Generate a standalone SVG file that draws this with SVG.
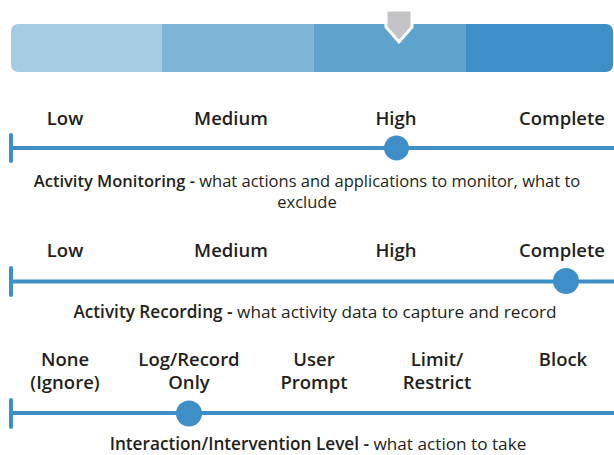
<svg xmlns="http://www.w3.org/2000/svg" width="614" height="455" viewBox="0 0 614 455">
<style>
.lbl{font-family:"Open Sans","Liberation Sans",sans-serif;font-weight:600;font-size:18.5px;fill:#231f20;text-anchor:middle}
.cap{font-family:"Open Sans","Liberation Sans",sans-serif;font-size:16.5px;fill:#231f20;text-anchor:middle}
.cap2{font-size:17.2px}
.cap .b{font-weight:600}
.track{stroke:#3e8fc7;stroke-width:4;fill:none}
.knob{fill:#3e8fc7}
</style>
<defs>
<clipPath id="barclip"><rect x="11" y="24" width="602" height="48" rx="7"/></clipPath>
</defs>
<g id="scale-bar" clip-path="url(#barclip)">
<rect x="11" y="24" width="151" height="48" fill="#a6cce3"/>
<rect x="162" y="24" width="152" height="48" fill="#7fb5d7"/>
<rect x="314" y="24" width="152" height="48" fill="#5fa3cd"/>
<rect x="466" y="24" width="148" height="48" fill="#3e8fc7"/>
</g>
<g id="marker">
<polygon points="386,10 412,10 412,27 399,42 386,27" fill="#c4c4c6" stroke="#ffffff" stroke-width="3" stroke-linejoin="miter"/>
</g>
<g id="connectors">
<line class="track" x1="11" y1="148" x2="614" y2="148"/>
<line class="track" x1="11" y1="135" x2="11" y2="161" stroke-linecap="round"/>
<line class="track" x1="11" y1="281.5" x2="614" y2="281.5"/>
<line class="track" x1="11" y1="268" x2="11" y2="295" stroke-linecap="round"/>
<line class="track" x1="11" y1="413" x2="614" y2="413"/>
<line class="track" x1="11" y1="400" x2="11" y2="427" stroke-linecap="round"/>
</g>
<g id="monitoring">
<text class="lbl" x="65" y="125">Low</text>
<text class="lbl" x="231" y="125">Medium</text>
<text class="lbl" x="396" y="125">High</text>
<text class="lbl" x="562" y="125">Complete</text>
<circle class="knob" cx="396.5" cy="148" r="12.5"/>
<text class="cap" x="307" y="187"><tspan class="b">Activity Monitoring -</tspan> what actions and applications to monitor, what to</text>
<text class="cap" x="307" y="208">exclude</text>
</g>
<g id="recording">
<text class="lbl" x="65" y="257">Low</text>
<text class="lbl" x="231" y="257">Medium</text>
<text class="lbl" x="396" y="257">High</text>
<text class="lbl" x="562" y="257">Complete</text>
<circle class="knob" cx="566" cy="281" r="13"/>
<text class="cap cap2" x="315" y="318"><tspan class="b">Activity Recording -</tspan> what activity data to capture and record</text>
</g>
<g id="intervention">
<text class="lbl" x="65" y="366">None</text>
<text class="lbl" x="65" y="389">(Ignore)</text>
<text class="lbl" x="189" y="366">Log/Record</text>
<text class="lbl" x="189" y="389">Only</text>
<text class="lbl" x="314" y="366">User</text>
<text class="lbl" x="314" y="389">Prompt</text>
<text class="lbl" x="437" y="366">Limit/</text>
<text class="lbl" x="437" y="389">Restrict</text>
<text class="lbl" x="563" y="366">Block</text>
<circle class="knob" cx="189" cy="413.5" r="13"/>
<text class="cap cap2" x="318" y="450"><tspan class="b">Interaction/Intervention Level -</tspan> what action to take</text>
</g>
</svg>
